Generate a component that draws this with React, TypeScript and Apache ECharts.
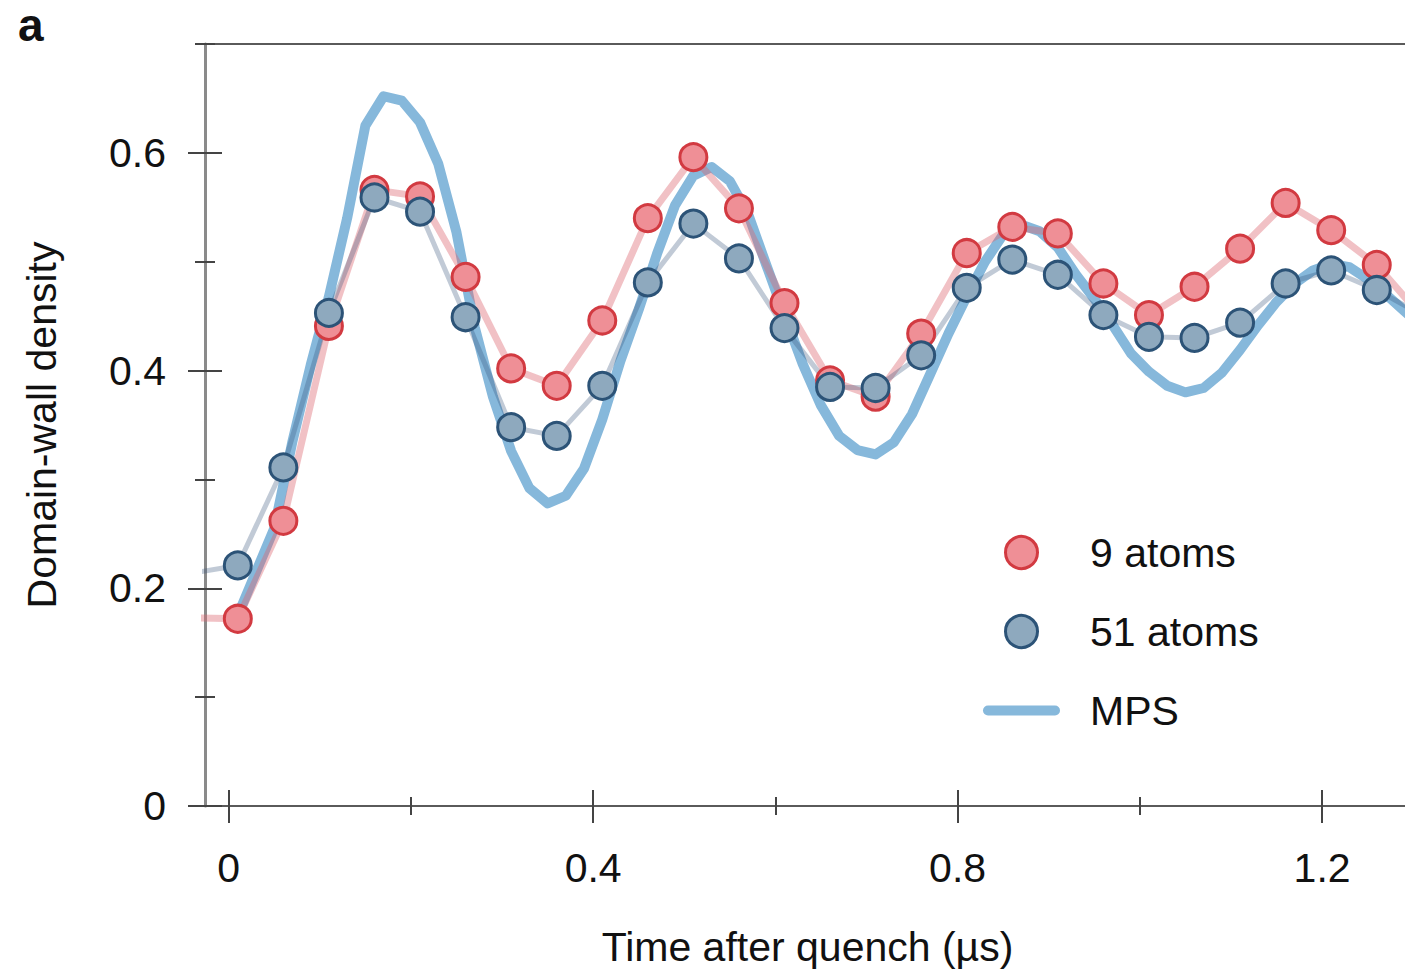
import React, { useEffect, useRef } from "react";
import * as echarts from "echarts";

// Measurement times (µs) shared by both atom series
const times = [
  -0.04, 0.01, 0.06, 0.11, 0.16, 0.21, 0.26, 0.31, 0.36, 0.41, 0.46, 0.51, 0.56, 0.61,
  0.66, 0.71, 0.76, 0.81, 0.86, 0.91, 0.96, 1.01, 1.06, 1.11, 1.16, 1.21, 1.26, 1.31,
];
const atoms9 = [
  0.173, 0.172, 0.262, 0.441, 0.566, 0.56, 0.486, 0.402, 0.386, 0.446, 0.54, 0.596, 0.549, 0.462,
  0.391, 0.376, 0.434, 0.508, 0.532, 0.526, 0.48, 0.451, 0.477, 0.512, 0.554, 0.529, 0.497, 0.449,
];
const atoms51 = [
  0.214, 0.221, 0.311, 0.453, 0.559, 0.546, 0.449, 0.348, 0.34, 0.386, 0.481, 0.535, 0.503, 0.439,
  0.385, 0.384, 0.414, 0.476, 0.502, 0.488, 0.451, 0.431, 0.43, 0.444, 0.48, 0.492, 0.474, 0.451,
];
const mpsTimes = [
  0.01, 0.03, 0.05, 0.07, 0.09, 0.11, 0.13, 0.15, 0.17, 0.19, 0.21, 0.23, 0.25, 0.27, 0.29,
  0.31, 0.33, 0.35, 0.37, 0.39, 0.41, 0.43, 0.45, 0.47, 0.49, 0.51, 0.53, 0.55, 0.57, 0.59,
  0.61, 0.63, 0.65, 0.67, 0.69, 0.71, 0.73, 0.75, 0.77, 0.79, 0.81, 0.83, 0.85, 0.87, 0.89,
  0.91, 0.93, 0.95, 0.97, 0.99, 1.01, 1.03, 1.05, 1.07, 1.09, 1.11, 1.13, 1.15, 1.17, 1.19,
  1.21, 1.23, 1.25, 1.27, 1.29, 1.31,
];
const mpsValues = [
  0.175, 0.215, 0.255, 0.335, 0.405, 0.468, 0.54, 0.625, 0.652, 0.648, 0.628, 0.59, 0.527, 0.44, 0.376,
  0.326, 0.292, 0.278, 0.285, 0.31, 0.355, 0.409, 0.456, 0.507, 0.552, 0.579, 0.587, 0.574, 0.544, 0.497,
  0.451, 0.406, 0.368, 0.34, 0.327, 0.323, 0.334, 0.36, 0.397, 0.434, 0.468, 0.5, 0.525, 0.534, 0.528,
  0.513, 0.488, 0.466, 0.442, 0.416, 0.399, 0.386, 0.38, 0.384, 0.398, 0.419, 0.442, 0.463, 0.48, 0.492,
  0.498, 0.495, 0.484, 0.47, 0.455, 0.44,
];
const xMajorTicks = [0, 0.4, 0.8, 1.2];
const xMinorTicks = [0.2, 0.6, 1.0];
const yMajorTicks = [0, 0.2, 0.4, 0.6];
const yMinorTicks = [0.1, 0.3, 0.5, 0.7];

const FONT = "'Liberation Sans', Arial, Helvetica, sans-serif";
const FS = 41;
const X_MIN = -0.026;
const X_MAX = 1.291;
const Y_MIN = 0;
const Y_MAX = 0.7;

const RED_FILL = "#ef8f96";
const RED_EDGE = "#d23a41";
const BLUE_FILL = "#8ea9be";
const BLUE_EDGE = "#2c5377";
const MPS_COLOR = "#86b8db";

function xAxisDef(position: string, extra: any) {
  return {
    type: "value",
    position,
    min: X_MIN,
    max: X_MAX,
    splitLine: { show: false },
    axisLine: { show: false, onZero: false },
    axisTick: { show: false },
    axisLabel: { show: false },
    ...extra,
  };
}
function yAxisDef(extra: any) {
  return {
    type: "value",
    position: "left",
    min: Y_MIN,
    max: Y_MAX,
    splitLine: { show: false },
    axisLine: { show: false, onZero: false },
    axisTick: { show: false },
    axisLabel: { show: false },
    ...extra,
  };
}

export default function App() {
  const ref = useRef<HTMLDivElement>(null);
  useEffect(() => {
    if (!ref.current) return;
    const chart = echarts.init(ref.current, undefined, { renderer: "svg" });
    const tickStyle = { color: "#444", width: 2 };
    const pairs = (xs: number[], ys: number[]) => xs.map((x, i) => [x, ys[i]]);
    chart.setOption({
      animation: false,
      backgroundColor: "#ffffff",
      grid: { left: 205, right: 0, top: 44, bottom: 166, containLabel: false },
      graphic: [
        {
          type: "text",
          left: 18,
          top: 2,
          style: { text: "a", font: `bold 46px ${FONT}`, fill: "#111" },
        },
      ],
      xAxis: [
        xAxisDef("bottom", {
          axisLine: { show: true, onZero: false, lineStyle: { color: "#5a5a5a", width: 2 } },
          axisTick: { show: true, customValues: xMajorTicks, inside: false, length: 17, lineStyle: tickStyle },
          axisLabel: {
            show: true,
            customValues: xMajorTicks,
            fontSize: FS,
            fontFamily: FONT,
            color: "#111",
            margin: 41,
            formatter: (v: number) => String(v),
          },
          name: "Time after quench (µs)",
          nameLocation: "middle",
          nameGap: 120,
          nameTextStyle: { fontSize: FS, fontFamily: FONT, color: "#111", padding: [0, 0, 0, 5] },
        }),
        xAxisDef("bottom", {
          axisTick: { show: true, customValues: xMajorTicks, inside: true, length: 16, lineStyle: tickStyle },
        }),
        xAxisDef("bottom", {
          axisTick: { show: true, customValues: xMinorTicks, inside: false, length: 9, lineStyle: tickStyle },
        }),
        xAxisDef("bottom", {
          axisTick: { show: true, customValues: xMinorTicks, inside: true, length: 9, lineStyle: tickStyle },
        }),
        xAxisDef("top", {
          axisLine: { show: true, onZero: false, lineStyle: { color: "#5a5a5a", width: 2 } },
        }),
      ],
      yAxis: [
        yAxisDef({
          axisLine: { show: true, onZero: false, lineStyle: { color: "#8a8a8a", width: 3 } },
          axisTick: { show: true, customValues: yMajorTicks, inside: false, length: 17, lineStyle: tickStyle },
          axisLabel: {
            show: true,
            customValues: yMajorTicks,
            fontSize: FS,
            fontFamily: FONT,
            color: "#111",
            margin: 39,
            formatter: (v: number) => String(v),
          },
          name: "Domain-wall density",
          nameLocation: "middle",
          nameGap: 143,
          nameTextStyle: { fontSize: FS, fontFamily: FONT, color: "#111" },
        }),
        yAxisDef({
          axisTick: { show: true, customValues: yMajorTicks, inside: true, length: 17, lineStyle: tickStyle },
        }),
        yAxisDef({
          axisTick: { show: true, customValues: yMinorTicks, inside: false, length: 10, lineStyle: tickStyle },
        }),
        yAxisDef({
          axisTick: { show: true, customValues: yMinorTicks, inside: true, length: 10, lineStyle: tickStyle },
        }),
      ],
      legend: {
        orient: "vertical",
        left: 983,
        top: 532,
        padding: 0,
        itemWidth: 77,
        itemHeight: 32,
        itemGap: 38,
        selectedMode: false,
        textStyle: { fontSize: FS, fontFamily: FONT, color: "#111", padding: [0, 0, 0, 25] },
        data: [
          { name: "9 atoms", icon: "circle", itemStyle: { color: RED_FILL, borderColor: RED_EDGE, borderWidth: 3 } },
          { name: "51 atoms", icon: "circle", itemStyle: { color: BLUE_FILL, borderColor: BLUE_EDGE, borderWidth: 3 } },
          {
            name: "MPS",
            icon: "path://M5,0 L72,0 A5,5 0 0 1 72,10 L5,10 A5,5 0 0 1 5,0 Z",
            itemStyle: { color: MPS_COLOR, borderWidth: 0 },
          },
        ],
      },
      series: [
        {
          type: "line",
          name: "MPS",
          data: pairs(mpsTimes, mpsValues),
          showSymbol: false,
          symbol: "none",
          itemStyle: { color: MPS_COLOR },
          lineStyle: { color: MPS_COLOR, width: 10, cap: "round", join: "round" },
          z: 2,
        },
        {
          type: "line",
          name: "9 atoms trace",
          data: pairs(times, atoms9),
          showSymbol: false,
          symbol: "none",
          lineStyle: { color: "rgba(220,100,110,0.4)", width: 7 },
          z: 3,
        },
        {
          type: "line",
          name: "51 atoms trace",
          data: pairs(times, atoms51),
          showSymbol: false,
          symbol: "none",
          lineStyle: { color: "rgba(50,80,120,0.3)", width: 5 },
          z: 3,
        },
        {
          type: "scatter",
          name: "9 atoms",
          data: pairs(times, atoms9),
          symbol: "circle",
          symbolSize: 27,
          itemStyle: { color: RED_FILL, borderColor: RED_EDGE, borderWidth: 3, opacity: 1 },
          z: 4,
        },
        {
          type: "scatter",
          name: "51 atoms",
          data: pairs(times, atoms51),
          symbol: "circle",
          symbolSize: 27,
          itemStyle: { color: BLUE_FILL, borderColor: BLUE_EDGE, borderWidth: 3, opacity: 1 },
          z: 5,
        },
      ],
    });
    return () => chart.dispose();
  }, []);
  return (
    <div
      ref={ref}
      style={{ position: "absolute", left: 0, top: 0, width: 1405, height: 972, background: "#fff" }}
    />
  );
}
